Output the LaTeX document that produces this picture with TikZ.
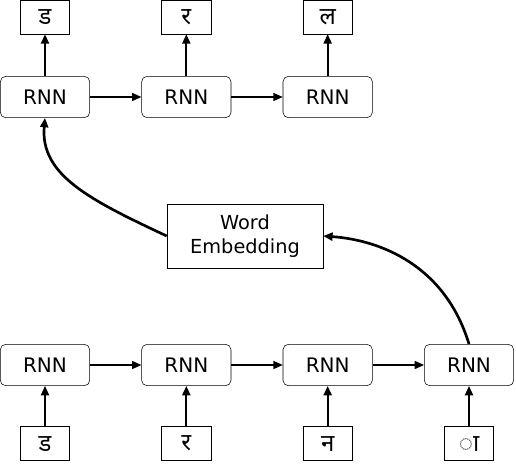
\documentclass[tikz,border=0pt]{standalone}
\usepackage{fontspec}
\setmainfont{DejaVu Sans}
\newfontfamily\devfont[Script=Devanagari]{Noto Sans}
\usetikzlibrary{arrows.meta, positioning}

\begin{document}
\begin{tikzpicture}[x=0.75pt,y=-0.75pt,on grid,node distance=59pt and 106pt,
      >={Triangle[length=7pt,width=6pt]},
      rnn/.style={draw,rounded corners=4pt,minimum width=67pt,minimum height=31pt,
        font=\fontsize{15}{18}\selectfont},
      letter/.style={draw,minimum width=37pt,minimum height=25.5pt,
        font=\devfont\fontsize{18}{20}\selectfont},
      embed/.style={draw,minimum width=117pt,minimum height=48pt,align=center,
        font=\fontsize{14.5}{18}\selectfont},
      step arrow/.style={->,line width=1pt},
      up arrow/.style={->,line width=1.5pt},
      feed arrow/.style={->,line width=2pt}]
      \useasboundingbox (0,0) rectangle (516,464);
      % decoder
      \node[rnn] (d1) at (45,97) {RNN};
      \node[rnn, right=of d1] (d2) {RNN};
      \node[rnn, right=of d2] (d3) {RNN};
      \node[letter, above=60pt of d1] (o1) {ड};
      \node[letter, above=60pt of d2] (o2) {र};
      \node[letter, above=60pt of d3] (o3) {ल};
      % encoder
      \node[rnn] (e1) at (45,365) {RNN};
      \node[rnn, right=of e1] (e2) {RNN};
      \node[rnn, right=of e2] (e3) {RNN};
      \node[rnn, right=of e3] (e4) {RNN};
      \node[letter, below=of e1] (i1) {ड};
      \node[letter, below=of e2] (i2) {र};
      \node[letter, below=of e3] (i3) {न};
      \node[letter, below=of e4] (i4) {◌ा};
      \node[embed] (we) at (245,236) {Word\\Embedding};
      \foreach \a/\b in {d1/d2,d2/d3,e1/e2,e2/e3,e3/e4}
        \draw[step arrow] (\a) -- (\b);
      \foreach \n in {1,2,3}
        \draw[up arrow] (d\n) -- (o\n);
      \foreach \n in {1,2,3,4}
        \draw[up arrow] (i\n) -- (e\n);
      \draw[feed arrow] (e4.north) .. controls (445,265) and (380,240) .. (we.east);
      \draw[feed arrow] (we.west) .. controls (90,200) and (40,175) .. (d1.south);
\end{tikzpicture}
\end{document}
